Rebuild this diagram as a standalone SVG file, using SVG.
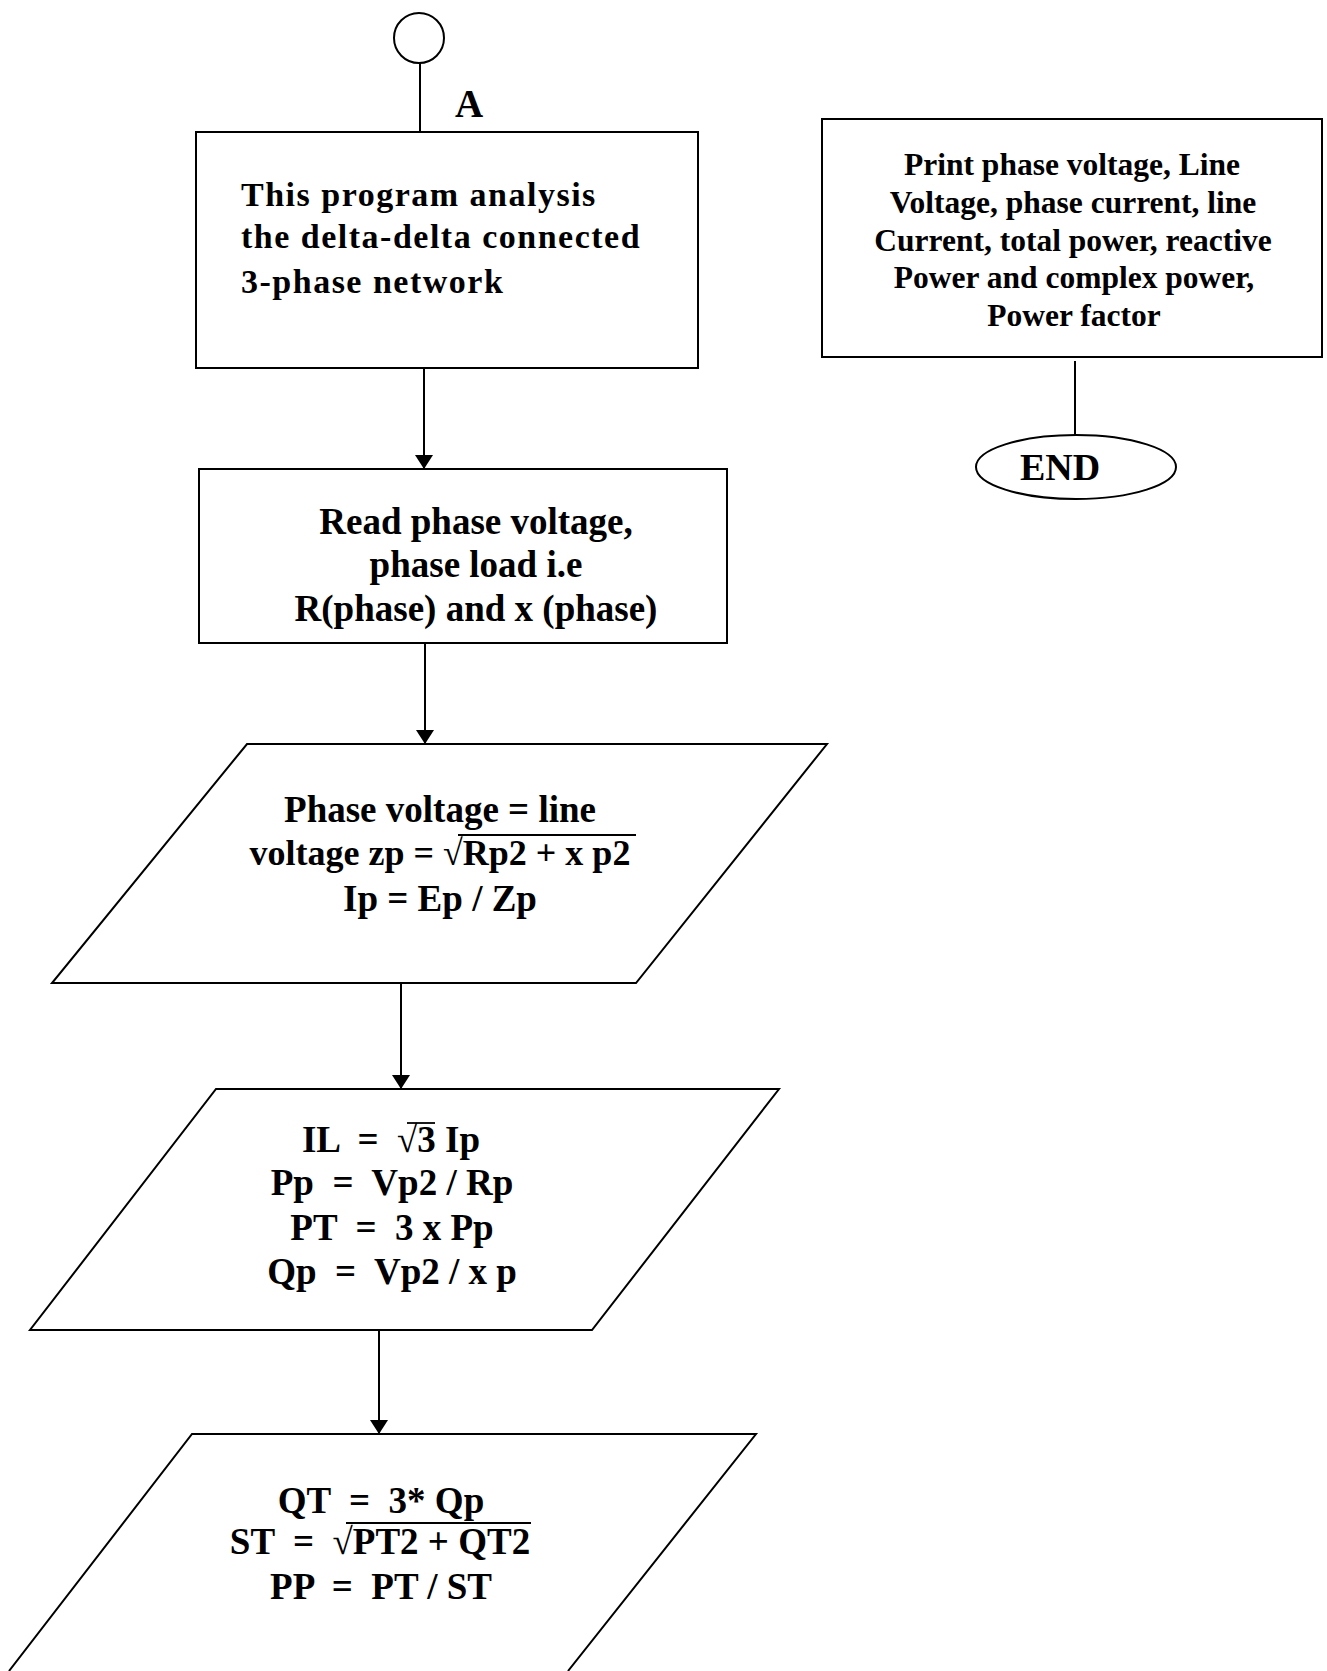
<svg xmlns="http://www.w3.org/2000/svg" width="1327" height="1671" viewBox="0 0 1327 1671">
<style>
.s{fill:#fff;stroke:#000;stroke-width:2}
.t{font-family:"Liberation Serif","Times New Roman",serif;font-weight:bold;fill:#000;white-space:pre}
.c{text-anchor:middle}
.e{stroke:#000;stroke-width:2;fill:none}
.ov{stroke:#000;stroke-width:1.8}
</style>
<defs>
<marker id="ah" viewBox="0 0 14 18" refX="14" refY="9" markerWidth="14" markerHeight="18" markerUnits="userSpaceOnUse" orient="auto">
<path d="M0,0 L14,9 L0,18 Z" fill="#000"/>
</marker>
</defs>
<rect width="1327" height="1671" fill="#fff"/>
<g id="connectors">
<line class="e" x1="420" y1="63" x2="420" y2="132"/>
<line class="e" x1="424" y1="368" x2="424" y2="469" marker-end="url(#ah)"/>
<line class="e" x1="425" y1="643" x2="425" y2="744" marker-end="url(#ah)"/>
<line class="e" x1="401" y1="983" x2="401" y2="1089" marker-end="url(#ah)"/>
<line class="e" x1="379" y1="1330" x2="379" y2="1434" marker-end="url(#ah)"/>
<line class="e" x1="1075" y1="361" x2="1075" y2="435"/>
</g>
<g id="start">
<circle class="s" cx="419" cy="38" r="25"/>
<text class="t" x="455" y="117" font-size="39">A</text>
</g>
<g id="intro">
<rect class="s" x="196" y="132" width="502" height="236"/>
<text class="t" font-size="34" letter-spacing="1.5"><tspan x="241" y="206">This program analysis</tspan><tspan x="241" y="248">the delta-delta connected</tspan><tspan x="241" y="293">3-phase network</tspan></text>
</g>
<g id="read">
<rect class="s" x="199" y="469" width="528" height="174"/>
<text class="t c" font-size="37"><tspan x="476" y="534">Read phase voltage,</tspan><tspan x="476" y="577">phase load i.e</tspan><tspan x="476" y="621">R(phase) and x (phase)</tspan></text>
</g>
<g id="calc1">
<polygon class="s" points="247,744 827,744 636,983 52,983"/>
<text class="t c" font-size="37"><tspan x="440" y="822">Phase voltage = line</tspan><tspan x="440" y="865" font-size="36">voltage zp = √Rp2 + x p2</tspan><tspan x="440" y="911">Ip = Ep / Zp</tspan></text>
<line class="ov" x1="458" y1="835" x2="636" y2="835"/>
</g>
<g id="calc2">
<polygon class="s" points="216,1089 779,1089 592,1330 30,1330"/>
<text class="t c" font-size="37" xml:space="preserve"><tspan x="391" y="1152">IL  =  √3 Ip</tspan><tspan x="392" y="1195">Pp  =  Vp2 / Rp</tspan><tspan x="392" y="1240">PT  =  3 x Pp</tspan><tspan x="392" y="1284">Qp  =  Vp2 / x p</tspan></text>
<line class="ov" x1="407" y1="1123" x2="435" y2="1123"/>
</g>
<g id="calc3">
<path class="s" d="M9,1671 L192,1434 L756,1434 L568,1671"/>
<text class="t c" font-size="37" xml:space="preserve"><tspan x="381" y="1513">QT  =  3* Qp</tspan><tspan x="380" y="1554">ST  =  √PT2 + QT2</tspan><tspan x="381" y="1599">PP  =  PT / ST</tspan></text>
<line class="ov" x1="346" y1="1523" x2="531" y2="1523"/>
</g>
<g id="print">
<rect class="s" x="822" y="119" width="500" height="238"/>
<text class="t c" font-size="31.5"><tspan x="1072" y="175">Print phase voltage, Line</tspan><tspan x="1073" y="213">Voltage, phase current, line</tspan><tspan x="1073" y="251">Current, total power, reactive</tspan><tspan x="1074" y="288">Power and complex power,</tspan><tspan x="1074" y="326">Power factor</tspan></text>
</g>
<g id="end">
<ellipse class="s" cx="1076" cy="467" rx="100" ry="32"/>
<text class="t c" x="1060" y="480" font-size="38">END</text>
</g>
</svg>
